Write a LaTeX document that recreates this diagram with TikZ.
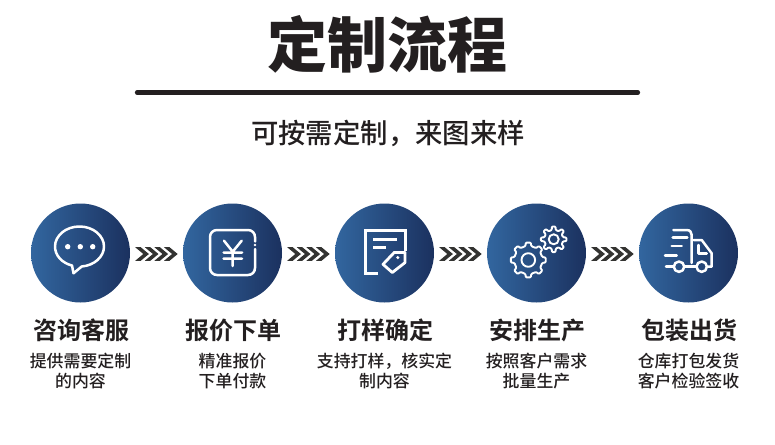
\documentclass[tikz,border=0pt]{standalone}
\usepackage{fontspec}
\usetikzlibrary{calc}
\newfontfamily\cjk{Noto Sans CJK SC Medium}
\newfontfamily\cjkb{Noto Sans CJK SC Bold}
\newfontfamily\cjkk{Noto Sans CJK SC Black}
\definecolor{ink}{HTML}{231F20}
\definecolor{chev}{HTML}{333331}
\definecolor{bluea}{HTML}{32669F}
\definecolor{blueb}{HTML}{1B315F}
\newcommand\gearat[4]{%
 \begin{scope}[shift={(#1,#2)}]
 \draw[icon,line width=1.9pt,rounded corners=0.9pt] (-12:#3-3.4)
  \foreach \i in {0,...,7}{ -- (\i*45-12:#3-3.4) -- (\i*45-8:#3) -- (\i*45+8:#3) -- (\i*45+12:#3-3.4)} -- cycle;
 \draw[icon,line width=1.9pt] (0,0) circle (#4);
 \end{scope}}
\tikzset{
 disc/.style={circle,minimum size=99pt,inner sep=0pt,left color=bluea,right color=blueb,shading angle=90},
 icon/.style={draw=white,line width=2.5pt,line join=round,line cap=round,fill=none},
 steptitle/.style={text=ink,font=\cjkb\fontsize{24}{26}\selectfont,inner sep=0pt,anchor=center},
 stepnote/.style={text=ink,font=\cjk\fontsize{16.9}{20}\selectfont,inner sep=0pt,anchor=center,align=center},
 chevshape/.pic={\foreach \d in {0,9.6,19.2,28.8}{\fill[chev] (-21.3+\d,-5.8)--(-15.8+\d,-5.8)--(-7.6+\d,1)--(-15.8+\d,7.8)--(-21.3+\d,7.8)--(-13.2+\d,1)--cycle;}},
}
\begin{document}
\begin{tikzpicture}[x=1pt,y=-1pt]
\useasboundingbox (0,0) rectangle (775,444);
\node[text=ink,font=\cjkk\fontsize{60}{62}\selectfont,inner sep=0pt] (title) at (387.5,44) {定制流程};
\coordinate (rl) at (137,92.5); \coordinate (rr) at (638,92.5);
\draw[ink,line width=4.2pt,line cap=round] (rl) -- (rr);
\node[text=ink,font=\cjk\fontsize{27.4}{30}\selectfont,inner sep=0pt] (sub) at (388,133.5) {可按需定制，来图来样};
% discs
\node[disc] (c1) at (80.5,253) {};
\node[disc] (c2) at (232.5,253) {};
\node[disc] (c3) at (384.5,253) {};
\node[disc] (c4) at (536.5,253) {};
\node[disc] (c5) at (688.5,253) {};
% chevrons
\pic at ($(c1)!0.5!(c2)$) {chevshape};
\pic at ($(c2)!0.5!(c3)$) {chevshape};
\pic at ($(c3)!0.5!(c4)$) {chevshape};
\pic at ($(c4)!0.5!(c5)$) {chevshape};
% chat
\draw[icon] (81.7,266.5) .. controls (94,265.5) and (104,257) .. (104,246.5) .. controls (104,235.5) and (93,226.5) .. (79.5,226.5) .. controls (66,226.5) and (55,235.5) .. (55,246.5) .. controls (55,255.5) and (62,263) .. (72,265.5) -- (73.5,273.3) -- cycle;
\foreach \x in {67.7,80.3,92.7}{\fill[white] (\x,246.7) circle (2.7);}
% yen
\draw[icon] (255,249) -- (255,268) .. controls (255,272) and (252,275) .. (248,275) -- (217,275) .. controls (213,275) and (210,272) .. (210,268) -- (210,237) .. controls (210,233) and (213,230) .. (217,230) -- (248,230) .. controls (252,230) and (255,233) .. (255,237) -- (255,241.5);
\fill[white] (255,245) circle (1.3);
\draw[icon] (224,240.7) -- (232.7,251.7) -- (241.7,240.7) (232.7,251.7) -- (232.7,266) (223.5,252.5) -- (242,252.5) (223.5,258.7) -- (242,258.7);
% document
\draw[icon,line width=3pt,line cap=butt,line join=miter] (378,273) -- (365.4,273) -- (365.4,230.4) -- (405,230.4) -- (405,251);
\draw[icon,line width=3.4pt,line cap=butt] (373.3,239.3) -- (397.3,239.3) (373.3,247.7) -- (385.7,247.7);
\draw[icon,line width=2.8pt] (383,264.3) -- (394.3,252.4) -- (405,252.4) -- (405,262.6) -- (392.3,272.5) -- cycle;
\fill[white] (397.8,257.6) circle (1.7);
% gears
\gearat{528.3}{260}{17.6}{6.8}
\gearat{553.7}{239.3}{12.9}{5}
% truck
\draw[icon] (673.3,230) -- (686.5,230) .. controls (690,230) and (691.7,232) .. (691.7,235) -- (691.7,263);
\draw[icon] (693.5,240) -- (701.7,240) -- (711.7,253.3) -- (711.7,266.7) -- (708,266.7);
\draw[icon] (698.3,245) -- (698.3,253.3) -- (706.7,253.3);
\draw[icon] (679,266.7) circle (5.2) (701.7,266.7) circle (5.2);
\draw[icon] (684.5,266.7) -- (696.3,266.7) (666,266.7) -- (673.5,266.7);
\draw[icon] (672.7,237.3) -- (687.3,237.3) (671.7,246) -- (681.7,246) (665,255.3) -- (676.7,255.3);
% labels
\node[steptitle] (t1) at (81.2,330) {咨询客服};
\node[steptitle] (t2) at (233.2,330) {报价下单};
\node[steptitle] (t3) at (385.2,330) {打样确定};
\node[steptitle] (t4) at (537.2,330) {安排生产};
\node[steptitle] (t5) at (689.2,330) {包装出货};
\node[stepnote] (n1a) at (80.5,361) {提供需要定制};
\node[stepnote] (n1b) at (80.5,381) {的内容};
\node[stepnote] (n2a) at (232.5,361) {精准报价};
\node[stepnote] (n2b) at (232.5,381) {下单付款};
\node[stepnote] (n3a) at (384.5,361) {支持打样，核实定};
\node[stepnote] (n3b) at (384.5,381) {制内容};
\node[stepnote] (n4a) at (536.5,361) {按照客户需求};
\node[stepnote] (n4b) at (536.5,381) {批量生产};
\node[stepnote] (n5a) at (688.5,361) {仓库打包发货};
\node[stepnote] (n5b) at (688.5,381) {客户检验签收};
\end{tikzpicture}
\end{document}
